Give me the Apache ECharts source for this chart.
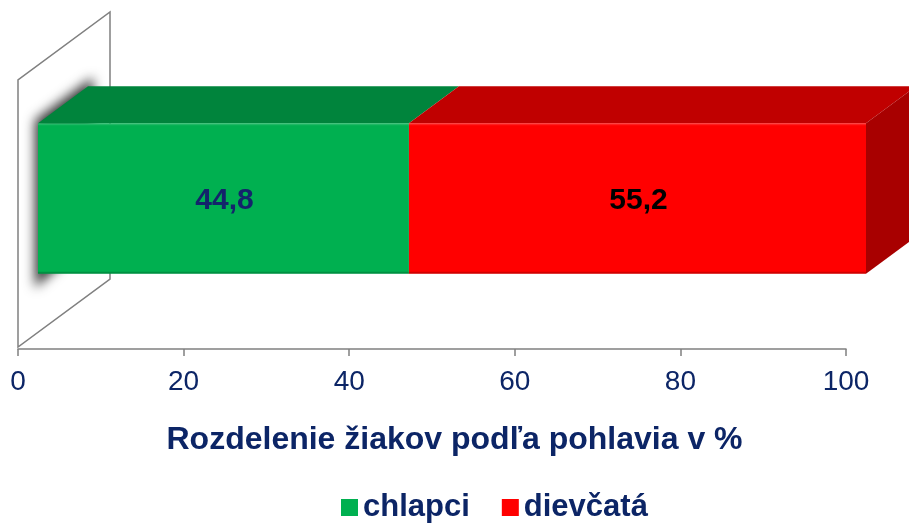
<!DOCTYPE html>
<html>
<head>
<meta charset="utf-8">
<script src="https://cdn.jsdelivr.net/npm/echarts@6/dist/echarts.min.js"></script>
<style>
  html, body { margin: 0; padding: 0; background: #fff; }
  #chart { width: 909px; height: 523px; }
</style>
</head>
<body>
<div id="chart"></div>
<script>
// data
const categories = ['chlapci', 'dievčatá'];
const values = [44.8, 55.2];
const valueLabels = ['44,8', '55,2'];
const tickValues = [0, 20, 40, 60, 80, 100];
const chartTitle = 'Rozdelenie žiakov podľa pohlavia v %';

// colours per segment: front, top, side, label
const fronts = ['#00B050', '#FF0000'];
const tops = ['#00843C', '#C00000'];
const sides = ['#007A36', '#A80000'];
const labelColors = ['#13246B', '#000000'];

const navy = '#0C2566';
const font = 'Liberation Sans, Arial, sans-serif';

// 3d look
const barShift = 20;          // front face shifted right of the floor axis
const barDepth = [50, -37];
const wallDepth = [92, -68];
const wallHeight = 267;
const far = 3000;             // shadow caster is drawn off screen, only its shadow shows

const chart = echarts.init(document.getElementById('chart'));

// cumulative start of each stacked segment
let starts = [];
let acc = 0;
values.forEach(v => { starts.push(acc); acc += v; });

function renderWall(params, api) {
	const cs = params.coordSys;
	const x = api.coord([0, 0])[0];
	const yb = cs.y + cs.height - 2;
	const yt = yb - wallHeight;
	return {
		type: 'polygon',
		shape: {
			points: [
				[x, yb], [x, yt],
				[x + wallDepth[0], yt + wallDepth[1]],
				[x + wallDepth[0], yb + wallDepth[1]]
			]
		},
		style: { fill: '#fff', stroke: '#808080', lineWidth: 1.5 }
	};
}

function makeBarRender(idx) {
	return function (params, api) {
		const s = api.value(0);
		const e = api.value(1);
		const p0 = api.coord([s, 0]);
		const p1 = api.coord([e, 0]);
		const h = api.size([0, 1])[1] * 0.5;
		const x0 = p0[0] + barShift;
		const x1 = p1[0] + barShift;
		const yt = p0[1] - h / 2;
		const yb = p0[1] + h / 2;
		const dx = barDepth[0], dy = barDepth[1];
		const children = [];
		if (idx === 0) {
			// blurred shadow of the bar end on the back wall
			children.push({
				type: 'polygon',
				shape: {
					points: [
						[x0 - 3 - far, yt - 3],
						[x0 + dx + 5 - far, yt + dy - 9],
						[x0 + dx + 5 - far, yb + dy],
						[x0 - 3 - far, yb + 14]
					]
				},
				style: {
					fill: '#000',
					shadowBlur: 12,
					shadowColor: 'rgba(0,0,0,0.8)',
					shadowOffsetX: far,
					shadowOffsetY: 0
				}
			});
		}
		children.push({
			type: 'polygon',
			shape: { points: [[x0, yt], [x1, yt], [x1 + dx, yt + dy], [x0 + dx, yt + dy]] },
			style: { fill: tops[idx] }
		});
		if (idx === values.length - 1) {
			children.push({
				type: 'polygon',
				shape: { points: [[x1, yt], [x1 + dx, yt + dy], [x1 + dx, yb + dy], [x1, yb]] },
				style: { fill: sides[idx] }
			});
		}
		children.push({
			type: 'rect',
			shape: { x: x0, y: yt, width: x1 - x0, height: yb - yt },
			style: { fill: fronts[idx] }
		});
		// soft edges of the front face
		children.push({
			type: 'rect',
			shape: { x: x0, y: yt, width: x1 - x0, height: 2 },
			style: { fill: 'rgba(255,255,255,0.12)' }
		});
		children.push({
			type: 'rect',
			shape: { x: x0, y: yb - 2, width: x1 - x0, height: 2 },
			style: { fill: 'rgba(0,0,0,0.18)' }
		});
		children.push({
			type: 'text',
			style: {
				text: valueLabels[idx],
				x: (x0 + x1) / 2 + 1,
				y: (yt + yb) / 2 + 2,
				align: 'center',
				verticalAlign: 'middle',
				fill: labelColors[idx],
				font: 'bold 30px ' + font
			}
		});
		return { type: 'group', children: children };
	};
}

const series = [{
	type: 'custom',
	name: 'wall',
	renderItem: renderWall,
	data: [[0, 0]],
	silent: true,
	z: 1
}];
categories.forEach((c, i) => {
	series.push({
		type: 'custom',
		name: c,
		renderItem: makeBarRender(i),
		itemStyle: { color: fronts[i] },
		encode: { x: [0, 1], y: 2 },
		data: [[starts[i], starts[i] + values[i], 0]],
		z: 2 + i
	});
});

const option = {
	animation: false,
	title: {
		text: chartTitle,
		left: 'center',
		top: 419,
		textStyle: { fontFamily: font, fontSize: 32, fontWeight: 'bold', color: navy }
	},
	legend: {
		data: categories,
		left: 336,
		top: 487,
		itemWidth: 17,
		itemHeight: 17,
		itemGap: 32,
		icon: 'rect',
		textStyle: { fontFamily: font, fontSize: 31, fontWeight: 'bold', color: navy }
	},
	grid: { left: 18, right: 63, top: 48, bottom: 174 },
	xAxis: {
		type: 'value',
		min: tickValues[0],
		max: tickValues[tickValues.length - 1],
		interval: tickValues[1] - tickValues[0],
		axisLine: { show: true, lineStyle: { color: '#808080', width: 1.5 } },
		axisTick: { show: true, length: 7, lineStyle: { color: '#808080', width: 1.5 } },
		splitLine: { show: false },
		axisLabel: { margin: 19, fontFamily: font, fontSize: 28, color: navy }
	},
	yAxis: {
		type: 'category',
		data: ['%'],
		show: false
	},
	series: series
};

chart.setOption(option);
</script>
</body>
</html>
